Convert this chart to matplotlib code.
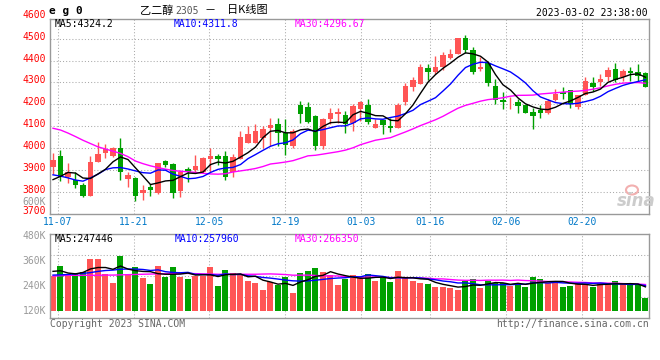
import numpy as np
import pandas as pd
import matplotlib
matplotlib.use("Agg")
from matplotlib import pyplot as plt
from matplotlib import transforms
from matplotlib.patches import Ellipse

plt.rcParams['font.family'] = ['DejaVu Sans Mono', 'Noto Sans CJK SC']

# ---- 数据：eg0 日K (2022-11-04 ~ 2023-03-03) ----
opens = [3914, 3963, 3868, 3853, 3830, 3781, 3937, 3975, 3963, 4001,
         3857, 3863, 3795, 3819, 3795, 3940, 3926, 3804, 3903, 3900,
         3892, 3949, 3965, 3965, 3892, 3949, 4023, 4023, 4046, 4089,
         4111, 4069, 4008, 4197, 4189, 4146, 4008, 4134, 4154, 4151,
         4115, 4177, 4195, 4092, 4128, 4100, 4092, 4208, 4277, 4292,
         4365, 4346, 4369, 4412, 4431, 4503, 4449, 4362, 4388, 4285,
         4218, 4222, 4212, 4197, 4166, 4172, 4162, 4218, 4258, 4265,
         4188, 4242, 4295, 4300, 4323, 4362, 4323, 4351, 4346, 4342]
highs = [3975, 3990, 3929, 3891, 3840, 3963, 4028, 4018, 4005, 4047,
         3891, 3868, 3830, 3837, 3932, 3947, 3932, 3901, 3914, 3969,
         3957, 4000, 3972, 3988, 3972, 4077, 4100, 4111, 4100, 4138,
         4138, 4131, 4085, 4215, 4212, 4150, 4135, 4185, 4185, 4169,
         4203, 4215, 4223, 4131, 4128, 4135, 4205, 4297, 4323, 4385,
         4385, 4420, 4438, 4451, 4505, 4518, 4462, 4415, 4388, 4315,
         4258, 4231, 4223, 4197, 4185, 4197, 4223, 4269, 4280, 4265,
         4243, 4323, 4323, 4338, 4369, 4388, 4362, 4369, 4385, 4346]
lows = [3883, 3850, 3840, 3815, 3776, 3781, 3937, 3952, 3960, 3853,
        3822, 3758, 3764, 3781, 3787, 3914, 3773, 3776, 3845, 3892,
        3885, 3892, 3923, 3854, 3866, 3949, 4023, 4023, 4000, 4008,
        4008, 3969, 4000, 4115, 4115, 3992, 3995, 4108, 4115, 4069,
        4077, 4123, 4108, 4092, 4062, 4072, 4092, 4197, 4262, 4292,
        4311, 4338, 4357, 4408, 4431, 4434, 4338, 4351, 4285, 4203,
        4177, 4180, 4158, 4158, 4085, 4138, 4154, 4215, 4223, 4182,
        4177, 4242, 4262, 4285, 4308, 4300, 4305, 4308, 4308, 4277]
closes = [3944, 3868, 3888, 3830, 3781, 3934, 3972, 3995, 4001, 3891,
          3876, 3781, 3807, 3807, 3929, 3921, 3795, 3891, 3891, 3918,
          3954, 3965, 3949, 3869, 3957, 4051, 4066, 4077, 4085, 4103,
          4069, 4012, 4077, 4154, 4120, 4011, 4131, 4162, 4166, 4108,
          4192, 4208, 4120, 4111, 4103, 4092, 4195, 4282, 4312, 4369,
          4346, 4369, 4426, 4431, 4503, 4446, 4346, 4372, 4297, 4218,
          4212, 4226, 4192, 4162, 4146, 4162, 4215, 4246, 4249, 4203,
          4243, 4305, 4280, 4315, 4357, 4311, 4354, 4342, 4331, 4280]
volumes = [286, 337, 297, 297, 307, 371, 371, 297, 254, 386,
           297, 333, 278, 249, 337, 283, 333, 283, 273, 289,
           289, 333, 241, 316, 300, 297, 265, 254, 221, 257,
           244, 284, 205, 302, 313, 326, 307, 294, 246, 273,
           292, 278, 297, 265, 278, 258, 312, 283, 262, 254,
           249, 236, 236, 229, 220, 262, 273, 229, 262, 254,
           254, 238, 254, 236, 283, 273, 254, 262, 234, 241,
           250, 250, 236, 254, 249, 262, 247, 242, 244, 181]
volumes = [v * 1000 for v in volumes]

# 均线开头几天（窗口外的历史数据，从图上读）
ma5_head = [3855, 3870, 3888, 3885]
ma10_head = [3877, 3871, 3863, 3853, 3848, 3863, 3880, 3901, 3909]
ma30_head = [4090, 4082, 4068, 4052, 4035, 4020, 4005, 3995, 3985, 3975,
             3960, 3940, 3928, 3918, 3910, 3903, 3897, 3893, 3891, 3888,
             3884, 3881, 3880, 3882, 3890, 3895, 3900, 3906, 3915]
vma5_head = [310000, 313000, 302000, 298000]
vma10_head = [292000, 293000, 295000, 298000, 300000, 304000, 310000, 314000, 316000]
vma30_head = [287000, 289000, 291000, 291000, 291000, 291000, 291000, 292000, 292000, 293000,
              294000, 295000, 296000, 297000, 298000, 299000, 300000, 300000, 300000, 299000,
              298000, 297000, 296000, 296000, 296000, 296000, 296000, 296000, 297000]

date_labels = ["11-07", "11-21", "12-05", "12-19", "01-03", "01-16", "02-06", "02-20"]
date_idx = [1, 11, 21, 31, 41, 50, 60, 70]
price_ticks = [3700, 3800, 3900, 4000, 4100, 4200, 4300, 4400, 4500, 4600]
vol_ticks = [120000, 240000, 360000, 480000]
vol_tick_labels = ["120K", "240K", "360K", "480K"]


def rolling_with_head(values, n, head):
    s = pd.Series(values, dtype=float).rolling(n).mean()
    s.iloc[:len(head)] = head
    return s.values


ma5 = rolling_with_head(closes, 5, ma5_head)
ma10 = rolling_with_head(closes, 10, ma10_head)
ma30 = rolling_with_head(closes, 30, ma30_head)
vma5 = rolling_with_head(volumes, 5, vma5_head)
vma10 = rolling_with_head(volumes, 10, vma10_head)
vma30 = rolling_with_head(volumes, 30, vma30_head)

RED = '#ff5555'
GREEN = '#00a000'
GRID = '#aaaaaa'
W, H = 660, 360


def px(x, y):
    return x / W, 1 - y / H


fig = plt.figure(figsize=(6.6, 3.6), dpi=100)
ax = fig.add_axes([50 / W, (H - 213.5) / H, 599 / W, 194.5 / H])
axv = fig.add_axes([50 / W, (H - 318.3) / H, 599 / W, 84 / H])

x = np.arange(len(closes))
o = np.array(opens, float)
c = np.array(closes, float)
up = c >= o
colors = np.where(up, RED, GREEN)

for a in (ax, axv):
    a.set_xlim(-0.4, 79.47)
    a.set_xticks([])
    a.set_yticks([])
    for sp in a.spines.values():
        sp.set_color('#999999')
        sp.set_linewidth(1.0)
    # 竖向网格（新浪的刻度位置略有偏移）
    for d in date_idx:
        a.axvline(d * 80 / 79 - 0.4, color=GRID, lw=0.75, ls=(0, (1, 2)), zorder=0)

ax.set_ylim(3700, 4590)
for p in price_ticks[1:-1]:
    ax.axhline(p, color=GRID, lw=0.75, ls=(0, (1, 2)), zorder=0)

# K线
ax.vlines(x, lows, highs, colors=colors, lw=1.0, zorder=2)
body_h = np.maximum(np.abs(c - o), 3)
ax.bar(x, body_h, bottom=np.minimum(o, c), width=0.76, color=colors, zorder=3)

ax.plot(x, ma30, color='#ff00ff', lw=1.0, zorder=4)
ax.plot(x, ma10, color='#0000ff', lw=1.0, zorder=4)
ax.plot(x, ma5, color='black', lw=1.0, zorder=4)

# 成交量
axv.set_ylim(83300, 489000)
for f in (0.25, 0.5, 0.75):
    axv.plot([0, 1], [f, f], transform=axv.transAxes, color=GRID, lw=0.75, ls=(0, (1, 2)), zorder=0)
vol = np.array(volumes, float)
axv.bar(x, vol - 120000, bottom=120000, width=0.8, color=colors, zorder=2)
axv.plot(x, vma30, color='#ff00ff', lw=1.0, zorder=3)
axv.plot(x, vma10, color='#0000ff', lw=1.0, zorder=3)
axv.plot(x, vma5, color='black', lw=1.0, zorder=3)

# 坐标文字
tr_price = transforms.offset_copy(transforms.blended_transform_factory(fig.transFigure, ax.transData),
                                  fig=fig, y=2, units='dots')
for p in price_ticks:
    fig.text(46 / W, p, str(p), transform=tr_price, ha='right', va='center',
             fontsize=7, color='#ff0000')
tr_vol = transforms.blended_transform_factory(fig.transFigure, axv.transData)
for v, lab in zip(vol_ticks, vol_tick_labels):
    fig.text(46 / W, v, lab, transform=tr_vol, ha='right', va='center',
             fontsize=7, color='#999999')
fig.text(*px(46, 201.7), "600K", ha='right', va='center', fontsize=7, color='#999999')

tr_date = transforms.blended_transform_factory(ax.transData, fig.transFigure)
for d, lab in zip(date_idx, date_labels):
    fig.text(d * 80 / 79 - 0.4, 1 - 221.7 / H, lab, transform=tr_date, ha='center', va='center',
             fontsize=7, color='#0078c8')

# 标题
fig.text(*px(49, 11), "e g 0", ha='left', va='center', fontsize=8, fontweight='bold', color='black')
fig.text(*px(140, 10.5), "乙二醇", ha='left', va='center', fontsize=8,
         family=['Noto Sans CJK SC'], color='black')
fig.text(*px(175, 11), "2305", ha='left', va='center', fontsize=7, color='#555555')
fig.text(*px(204, 10.5), "－", ha='left', va='center', fontsize=8,
         family=['Noto Sans CJK SC'], color='black')
fig.text(*px(227, 10.5), "日K线图", ha='left', va='center', fontsize=8,
         family=['Noto Sans CJK SC'], color='black')
fig.text(*px(648, 12.7), "2023-03-02 23:38:00", ha='right', va='center', fontsize=7, color='black')

fig.text(*px(55, 24), "MA5:4324.2", ha='left', va='center', fontsize=7, color='black')
fig.text(*px(174, 24), "MA10:4311.8", ha='left', va='center', fontsize=7, color='#0000ff')
fig.text(*px(295, 24), "MA30:4296.67", ha='left', va='center', fontsize=7, color='#ff00ff')

fig.text(*px(55, 238.5), "MA5:247446", ha='left', va='center', fontsize=7, color='black')
fig.text(*px(175, 238.5), "MA10:257960", ha='left', va='center', fontsize=7, color='#0000ff')
fig.text(*px(295, 238.5), "MA30:266350", ha='left', va='center', fontsize=7, color='#ff00ff')

fig.text(*px(50, 324), "Copyright 2023 SINA.COM", ha='left', va='center', fontsize=7, color='#666666')
fig.text(*px(649, 324), "http://finance.sina.com.cn", ha='right', va='center', fontsize=7, color='#666666')

# 水印
fig.text(*px(636, 201), "sina", ha='center', va='center', fontsize=12, fontweight='bold',
         style='italic', family=['DejaVu Sans'], color='#cccccc')
fig.patches.append(Ellipse(px(632, 190), 12 / W, 9 / H, transform=fig.transFigure,
                           fc='none', ec='#f2b0b0', lw=1.5))

fig.savefig("out.png", dpi=100)
